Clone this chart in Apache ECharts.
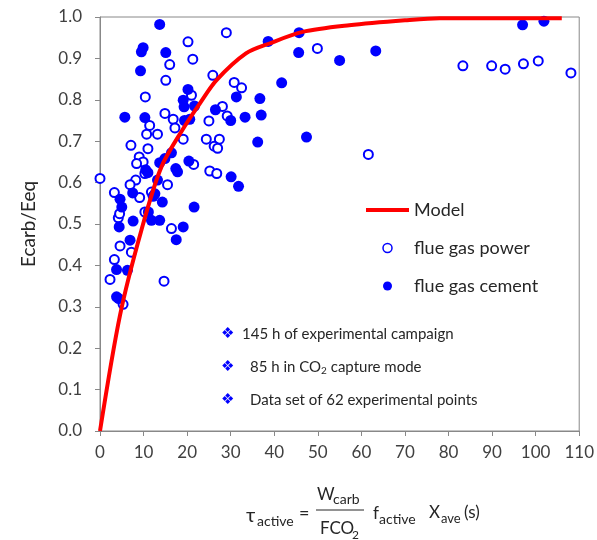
<!DOCTYPE html>
<html>
<head>
<meta charset="utf-8">
<script src="https://cdn.jsdelivr.net/npm/echarts@6/dist/echarts.min.js"></script>
<style>html,body{margin:0;padding:0;background:#fff}#c{width:597px;height:540px}</style>
</head>
<body>
<div id="c"></div>
<script>
// Model curve points [tau, Ecarb/Eeq]
const modelPts = [[0,0],[4.6,0.28],[9.5,0.485],[14.1,0.638],[19.8,0.742],[22.9,0.791],[26.7,0.847],[33.5,0.912],[38.9,0.936],[46.5,0.964],[57.2,0.98],[70,0.992],[78,0.997],[106,0.997]];

// flue gas power (open circles)
const powerPts = [
[29.0,0.962],[20.2,0.940],[21.3,0.898],[16.0,0.885],[15.1,0.847],[25.9,0.859],[10.4,0.807],[21.0,0.811],
[14.9,0.767],[30.8,0.842],[32.5,0.829],[49.9,0.924],[28.1,0.784],[29.2,0.761],[25.0,0.749],[24.4,0.705],
[27.4,0.705],[26.2,0.688],[27.0,0.683],[25.2,0.628],[26.8,0.622],[16.8,0.753],[17.2,0.732],[11.4,0.738],
[10.7,0.717],[13.2,0.717],[11.0,0.682],[19.1,0.705],[7.1,0.690],[9.0,0.662],[9.9,0.650],[8.4,0.646],
[21.5,0.644],[10.3,0.622],[8.2,0.606],[6.9,0.595],[15.5,0.595],[0,0.610],[3.3,0.576],[11.8,0.577],
[9.1,0.564],[10.3,0.529],[16.4,0.489],[4.2,0.515],[4.5,0.525],[4.6,0.447],[7.2,0.432],[3.3,0.414],
[2.3,0.366],[14.7,0.362],[5.3,0.306],[83.3,0.882],[89.9,0.882],[93.0,0.874],[97.2,0.887],[100.6,0.894],
[108.1,0.865],[61.6,0.668]
];

// flue gas cement (filled circles)
const cementPts = [
[13.7,0.982],[9.9,0.926],[9.5,0.916],[15.1,0.914],[9.3,0.870],[20.2,0.825],[19.1,0.799],[19.3,0.783],
[21.7,0.785],[26.5,0.776],[38.6,0.941],[45.7,0.962],[45.6,0.914],[55.0,0.895],[41.7,0.841],[31.3,0.807],
[36.7,0.803],[37.0,0.763],[33.3,0.758],[30.0,0.750],[36.2,0.698],[47.4,0.710],[30.1,0.614],[31.8,0.591],
[20.6,0.753],[19.4,0.750],[10.3,0.757],[5.7,0.758],[16.4,0.672],[14.9,0.658],[13.7,0.648],[10.5,0.631],
[11.0,0.624],[17.4,0.634],[17.8,0.626],[20.4,0.652],[13.2,0.606],[7.5,0.575],[12.6,0.573],[12.2,0.567],
[14.3,0.553],[4.6,0.560],[5.0,0.541],[21.6,0.541],[7.6,0.507],[11.1,0.529],[11.8,0.509],[13.7,0.509],
[19.1,0.493],[4.4,0.493],[17.5,0.462],[6.9,0.461],[3.8,0.390],[6.3,0.388],[3.8,0.324],[4.3,0.320],
[63.3,0.918],[97.0,0.981],[101.9,0.990]
];

const xTicks = {min:0, max:110, interval:10};
const yTicks = {min:0, max:1, interval:0.1};
const seriesNames = ['Model','flue gas power','flue gas cement'];
const notes = ['145 h of experimental campaign','85 h in CO','Data set of 62 experimental points'];

const FONT = 'Lato';
const BLUE = '#0000FF';
const chart = echarts.init(document.getElementById('c'), null, {renderer:'canvas'});

const txt = (x, y, s, size) => ({
  type:'text', x:x, y:y,
  style:{text:s, fontFamily:FONT, fontSize:size, fill:'#262626', verticalAlign:'middle', align:'left'}
});
const diamond = (x, y) => ({
  type:'text', x:x, y:y,
  style:{text:'\u2756', fontFamily:'DejaVu Sans', fontSize:15, fill:BLUE, verticalAlign:'middle', align:'left'}
});

chart.setOption({
  animation:false,
  grid:{left:100, right:16, top:17, bottom:109, show:true, borderColor:'#888', borderWidth:1},
  xAxis:{
    type:'value', min:xTicks.min, max:xTicks.max, interval:xTicks.interval,
    axisLine:{show:true, lineStyle:{color:'#888'}},
    axisTick:{show:true, length:5, lineStyle:{color:'#888'}},
    axisLabel:{margin:13, fontFamily:FONT, fontSize:17, color:'#404040'},
    splitLine:{show:false}
  },
  yAxis:{
    type:'value', min:yTicks.min, max:yTicks.max, interval:yTicks.interval,
    name:'Ecarb/Eeq', nameLocation:'middle', nameGap:62,
    nameTextStyle:{fontFamily:FONT, fontSize:19, color:'#262626'},
    axisLine:{show:true, lineStyle:{color:'#888'}},
    axisTick:{show:true, length:5, lineStyle:{color:'#888'}},
    axisLabel:{margin:18, fontFamily:FONT, fontSize:17, color:'#404040', formatter:v=>v.toFixed(1)},
    splitLine:{show:false}
  },
  legend:{
    orient:'vertical', left:361, top:195, itemWidth:43, itemHeight:9, itemGap:18,
    textStyle:{fontFamily:FONT, fontSize:18, color:'#262626', lineHeight:20},
    data:[
      {name:seriesNames[0], icon:'path://M0,0L43,0L43,4L0,4Z', itemStyle:{color:'#FF0000'}},
      {name:seriesNames[1], itemStyle:{borderWidth:1.5}},
      {name:seriesNames[2]}
    ]
  },
  series:[
    {name:seriesNames[0], type:'line', data:modelPts, smooth:0.3, symbol:'none',
     lineStyle:{color:'#FF0000', width:4}, itemStyle:{color:'#FF0000'}},
    {name:seriesNames[1], type:'scatter', data:powerPts, symbol:'circle', symbolSize:9,
     itemStyle:{color:'#ffffff', borderColor:BLUE, borderWidth:2, opacity:1}},
    {name:seriesNames[2], type:'scatter', data:cementPts, symbol:'circle', symbolSize:11,
     itemStyle:{color:BLUE, opacity:1}}
  ],
  graphic:[
    // annotations
    diamond(221, 334),
    txt(242, 334, notes[0], 15),
    diamond(221, 367),
    {type:'text', x:250, y:367, style:{
      text:'{a|85 h in CO}{s|2}{a| capture mode}', verticalAlign:'middle', align:'left',
      rich:{a:{fontFamily:FONT, fontSize:15, fill:'#262626', color:'#262626'},
            s:{fontFamily:FONT, fontSize:10, fill:'#262626', color:'#262626', verticalAlign:'bottom', padding:[8,0,0,0]}}
    }},
    diamond(221, 400),
    txt(250, 400, notes[2], 15),
    // x-axis formula
    txt(246, 516, '\u03C4', 20),
    txt(257, 521, 'active', 14),
    txt(299, 513, '=', 18),
    txt(317, 495, 'W', 17),
    txt(333, 499, 'carb', 14),
    {type:'line', shape:{x1:316, y1:510, x2:364, y2:510}, style:{stroke:'#262626', lineWidth:1}},
    txt(320, 529, 'FCO', 17),
    txt(352, 535, '2', 12),
    txt(373, 514, 'f', 17),
    txt(379, 519, 'active', 14),
    txt(429, 513, 'X', 17),
    txt(441, 519, 'ave', 13),
    txt(464, 513, '(s)', 17)
  ]
});
</script>
</body>
</html>
